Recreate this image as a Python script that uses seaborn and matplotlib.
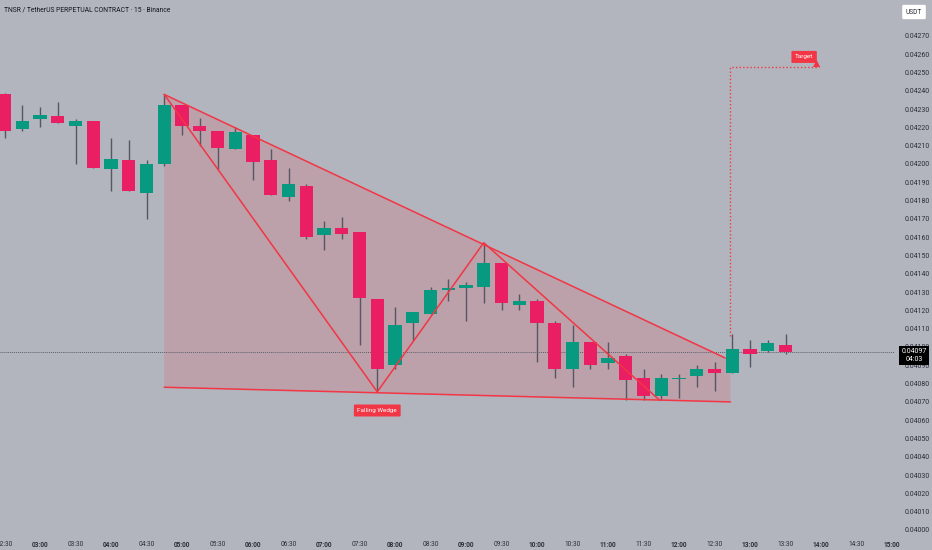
import matplotlib
matplotlib.use("Agg")
import matplotlib.pyplot as plt
import seaborn as sns
import numpy as np
import pandas as pd

# ---------------- data ----------------
times = ["02:30", "02:45", "03:00", "03:15", "03:30", "03:45", "04:00", "04:15", "04:30", "04:45",
         "05:00", "05:15", "05:30", "05:45", "06:00", "06:15", "06:30", "06:45", "07:00", "07:15",
         "07:30", "07:45", "08:00", "08:15", "08:30", "08:45", "09:00", "09:15", "09:30", "09:45",
         "10:00", "10:15", "10:30", "10:45", "11:00", "11:15", "11:30", "11:45", "12:00", "12:15",
         "12:30", "12:45", "13:00", "13:15", "13:30"]
opens = [0.04238, 0.04219, 0.042245, 0.04226, 0.04221, 0.042235, 0.04197, 0.04202, 0.04184, 0.04200,
         0.04232, 0.04221, 0.04218, 0.04208, 0.04216, 0.04202, 0.04182, 0.04188, 0.04161, 0.04165,
         0.04163, 0.04126, 0.04090, 0.04113, 0.04118, 0.04131, 0.04132, 0.04133, 0.04146, 0.04123,
         0.04125, 0.04113, 0.04088, 0.04103, 0.04091, 0.04095, 0.04083, 0.04073, 0.040825, 0.04084,
         0.04088, 0.04086, 0.04099, 0.04098, 0.04101]
highs = [0.04239, 0.04232, 0.04231, 0.04234, 0.042245, 0.042235, 0.04214, 0.04213, 0.04202, 0.04238,
         0.04232, 0.04225, 0.04218, 0.04220, 0.04216, 0.04208, 0.04198, 0.04189, 0.04169, 0.04171,
         0.04163, 0.04126, 0.04122, 0.04119, 0.04133, 0.04137, 0.041355, 0.04157, 0.04146, 0.04129,
         0.04126, 0.04114, 0.04112, 0.04103, 0.04103, 0.04096, 0.04088, 0.04085, 0.04085, 0.04090,
         0.04092, 0.04107, 0.04104, 0.04104, 0.04107]
lows = [0.04214, 0.04218, 0.04220, 0.042222, 0.04200, 0.04198, 0.04185, 0.04185, 0.04170, 0.04199,
        0.04216, 0.04210, 0.04197, 0.04208, 0.04191, 0.04183, 0.04180, 0.04159, 0.04153, 0.04159,
        0.04101, 0.04076, 0.04088, 0.04104, 0.04118, 0.04125, 0.04114, 0.04124, 0.04120, 0.04120,
        0.04092, 0.04083, 0.04078, 0.04088, 0.04088, 0.04071, 0.04071, 0.04071, 0.04072, 0.04078,
        0.04076, 0.04086, 0.04089, 0.04097, 0.04096]
closes = [0.04218, 0.042235, 0.04227, 0.042225, 0.042235, 0.04198, 0.04203, 0.04185, 0.04200, 0.04232,
          0.04221, 0.04218, 0.04209, 0.042175, 0.04201, 0.04183, 0.04189, 0.04160, 0.04165, 0.04162,
          0.04127, 0.04088, 0.04112, 0.04119, 0.04131, 0.04132, 0.04134, 0.04146, 0.04124, 0.04125,
          0.04113, 0.04088, 0.04103, 0.04090, 0.04094, 0.04082, 0.04073, 0.04083, 0.04083, 0.04088,
          0.04086, 0.04099, 0.04096, 0.04102, 0.04097]

time_tick_labels = ["02:30", "03:00", "03:30", "04:00", "04:30", "05:00", "05:30", "06:00", "06:30",
                    "07:00", "07:30", "08:00", "08:30", "09:00", "09:30", "10:00", "10:30", "11:00",
                    "11:30", "12:00", "12:30", "13:00", "13:30", "14:00", "14:30", "15:00"]

wedge_upper_x = [9, 40.6]
wedge_upper_y = [0.04238, 0.04094]
wedge_lower_x = [9, 40.9]
wedge_lower_y = [0.04078, 0.04070]
zigzag_x = [9, 21, 27, 36.9]
zigzag_y = [0.04238, 0.040755, 0.04157, 0.04071]
target_x = [40.9, 40.9, 45.9]
target_y = [0.04106, 0.04253, 0.04253]
last_price = 0.04097
last_time_left = "04:03"

# ---------------- style ----------------
BG = "#b2b5be"
UP = "#089981"
DOWN = "#e91e63"
RED = "#f23645"
WICK = "#555862"
TXT = "#2a2e39"

sns.set_theme(style="white")
plt.rcParams["font.family"] = ["Roboto", "DejaVu Sans"]

W, H = 932, 550
fig = plt.figure(figsize=(W / 100, H / 100), dpi=100)
fig.patch.set_facecolor(BG)
ax = fig.add_axes([0, 15 / H, 895 / W, 535 / H])
ax.set_facecolor(BG)
for s in ax.spines.values():
    s.set_visible(False)

df = pd.DataFrame({"time": times, "open": opens, "high": highs, "low": lows, "close": closes})
df["idx"] = np.arange(len(df))
df["up"] = df["close"] >= df["open"]

x_step = 17.75  # px per candle
ax.set_xlim(-4.5 / x_step, (895 - 4.5) / x_step)
ax.set_ylim(0.04 - 5 / 18.3 * 0.0001, 0.04 + 530 / 18.3 * 0.0001)

# wedge shading
poly_x = [wedge_upper_x[0], wedge_lower_x[1], wedge_lower_x[1], wedge_lower_x[0]]
poly_y = [wedge_upper_y[0], 0.04093, wedge_lower_y[1], wedge_lower_y[0]]
ax.fill(poly_x, poly_y, color=RED, alpha=0.16, lw=0, zorder=1)

# last price line
ax.axhline(last_price, color="#5d606b", lw=0.7, ls=(0, (1, 1)), zorder=1.5)

# candles
cols = np.where(df["up"], UP, DOWN)
ax.vlines(df["idx"], df["low"], df["high"], color=WICK, lw=1.0, zorder=2)
body_bottom = np.minimum(df["open"], df["close"])
body_h = np.maximum(np.abs(df["close"] - df["open"]), 0.0000035)
ax.bar(df["idx"], body_h, bottom=body_bottom, width=0.76, color=cols, lw=0, zorder=3)

# wedge drawing lines (seaborn)
sns.lineplot(x=wedge_upper_x, y=wedge_upper_y, ax=ax, color=RED, lw=1.1, sort=False, estimator=None, zorder=4)
sns.lineplot(x=wedge_lower_x, y=wedge_lower_y, ax=ax, color=RED, lw=1.1, sort=False, estimator=None, zorder=4)
sns.lineplot(x=zigzag_x, y=zigzag_y, ax=ax, color=RED, lw=1.1, sort=False, estimator=None, zorder=4)
ax.plot(target_x, target_y, color=RED, lw=1.0, ls=(0, (1, 1.6)), zorder=4)

# labels
ax.text(21.0, 0.040653, "Falling Wedge", ha="center", va="center", color="white", fontsize=4.6,
        zorder=6, bbox=dict(boxstyle="round,pad=0.55,rounding_size=0.15", fc=RED, ec="none"))
ax.text(45.05, 0.042585, "Target", ha="center", va="center", color="white", fontsize=4.6,
        zorder=6, bbox=dict(boxstyle="round,pad=0.55,rounding_size=0.15", fc=RED, ec="none"))
ax.fill([45.55, 45.95, 45.75], [0.04253, 0.04253, 0.04257], color=RED, lw=0, zorder=5)

# axes ticks
ax.yaxis.tick_right()
yt = np.round(np.arange(0.04, 0.042701, 0.0001), 5)
ax.set_yticks(yt)
ax.set_yticklabels([f"{v:.5f}" for v in yt])
ax.tick_params(axis="y", length=0, pad=7, labelsize=5, labelcolor=TXT)

xt = np.arange(0, 2 * len(time_tick_labels), 2)
ax.set_xticks(xt)
ax.set_xticklabels(time_tick_labels)
ax.tick_params(axis="x", length=0, pad=4, labelsize=4.7, labelcolor=TXT)
for lab in ax.get_xticklabels():
    if lab.get_text().endswith(":00"):
        lab.set_fontweight("bold")
ax.grid(False)

# title
fig.text(4 / W, 1 - 10 / H, "TNSR / TetherUS PERPETUAL CONTRACT · 15 · Binance", fontsize=4.9,
         color="#131722", ha="left", va="center")

# USDT box
fig.text(914 / W, 1 - 12 / H, "USDT", fontsize=4.8, color=TXT, ha="center", va="center",
         bbox=dict(boxstyle="round,pad=0.55,rounding_size=0.2", fc="white", ec="none"))

# price label
fig.text(914 / W, 1 - 355.5 / H, f"{last_price:.5f}\n{last_time_left}", fontsize=5, color="white",
         ha="center", va="center", linespacing=1.25, zorder=10,
         bbox=dict(boxstyle="square,pad=0.3", fc="black", ec="none"))

fig.savefig("out.png", dpi=100, facecolor=BG)
